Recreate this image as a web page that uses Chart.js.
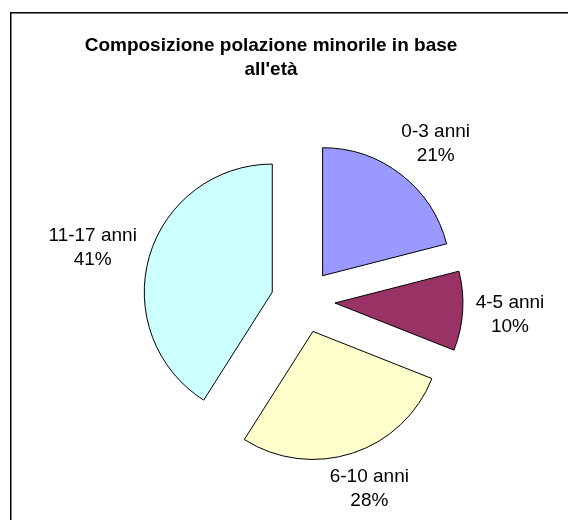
<!DOCTYPE html>
<html>
<head>
<meta charset="utf-8">
<title>Composizione polazione minorile in base all'età</title>
<script src="https://cdn.jsdelivr.net/npm/chart.js@4/dist/chart.umd.min.js"></script>
<style>
  html, body { margin: 0; padding: 0; background: #fff; }
  canvas { display: block; }
</style>
</head>
<body>
<canvas id="minori-eta" width="568" height="520"></canvas>
<script>
const chartTitle = ["Composizione polazione minorile in base", "all'età"];
const categories = ["0-3 anni", "4-5 anni", "6-10 anni", "11-17 anni"];
const shares = [21, 10, 28, 41];
const sliceColors = ["#9999FF", "#993366", "#FFFFCC", "#CCFFFF"];

const FONT = "'Liberation Sans', Arial, sans-serif";

// frame + title, drawn behind the pie
const frameAndTitle = {
  id: "frameAndTitle",
  beforeDraw(chart) {
    const ctx = chart.ctx;
    ctx.save();
    ctx.fillStyle = "#fff";
    ctx.fillRect(0, 0, chart.width, chart.height);
    ctx.strokeStyle = "#000";
    ctx.lineWidth = 1.5;
    ctx.strokeRect(10.75, 12.75, chart.width + 20, chart.height + 20);
    ctx.fillStyle = "#000";
    ctx.font = "bold 19px " + FONT;
    ctx.textAlign = "center";
    ctx.textBaseline = "alphabetic";
    chartTitle.forEach((line, i) => {
      ctx.fillText(line, 271, 51 + i * 24);
    });
    ctx.restore();
  },
};

// pull every slice out from the centre along its bisector
const explode = {
  id: "explode",
  afterUpdate(chart, args, opts) {
    const meta = chart.getDatasetMeta(0);
    meta.data.forEach((arc) => {
      const mid = (arc.startAngle + arc.endAngle) / 2;
      arc.x += Math.cos(mid) * opts.distance;
      arc.y += Math.sin(mid) * opts.distance;
    });
  },
};

// category + percent outside each slice
const sliceLabels = {
  id: "sliceLabels",
  afterDatasetsDraw(chart, args, opts) {
    const ctx = chart.ctx;
    const area = chart.chartArea;
    const cx = (area.left + area.right) / 2;
    const cy = (area.top + area.bottom) / 2;
    const data = chart.data.datasets[0].data;
    const total = data.reduce((a, b) => a + b, 0);
    const meta = chart.getDatasetMeta(0);

    ctx.save();
    ctx.font = "19px " + FONT;
    ctx.fillStyle = "#000";
    ctx.textAlign = "center";
    ctx.textBaseline = "alphabetic";
    meta.data.forEach((arc, i) => {
      const lines = [chart.data.labels[i], Math.round((data[i] / total) * 100) + "%"];
      const w = Math.max(...lines.map((l) => ctx.measureText(l).width));
      const mid = (arc.startAngle + arc.endAngle) / 2;
      const ux = Math.cos(mid);
      const uy = Math.sin(mid);
      const m = Math.max(Math.abs(ux), Math.abs(uy));
      const d = arc.outerRadius + opts.gap;
      const x = cx + ux * d + (ux / m) * (w / 2);
      const y = cy + uy * d + (uy / m) * 22;
      ctx.fillText(lines[0], x, y - 12 + 6.8);
      ctx.fillText(lines[1], x, y + 12 + 6.8);
    });
    ctx.restore();
  },
};

const ctx = document.getElementById("minori-eta");

new Chart(ctx, {
  type: "pie",
  data: {
    labels: categories,
    datasets: [
      {
        data: shares,
        backgroundColor: sliceColors,
        borderColor: "#000",
        borderWidth: 1,
      },
    ],
  },
  options: {
    responsive: false,
    devicePixelRatio: 1,
    animation: false,
    radius: 128,
    layout: {
      padding: { left: 38, right: 0, top: 82, bottom: 0 },
    },
    plugins: {
      legend: { display: false },
      title: { display: false },
      tooltip: { enabled: false },
      explode: { distance: 32 },
      sliceLabels: { gap: 45 },
    },
  },
  plugins: [frameAndTitle, explode, sliceLabels],
});
</script>
</body>
</html>
